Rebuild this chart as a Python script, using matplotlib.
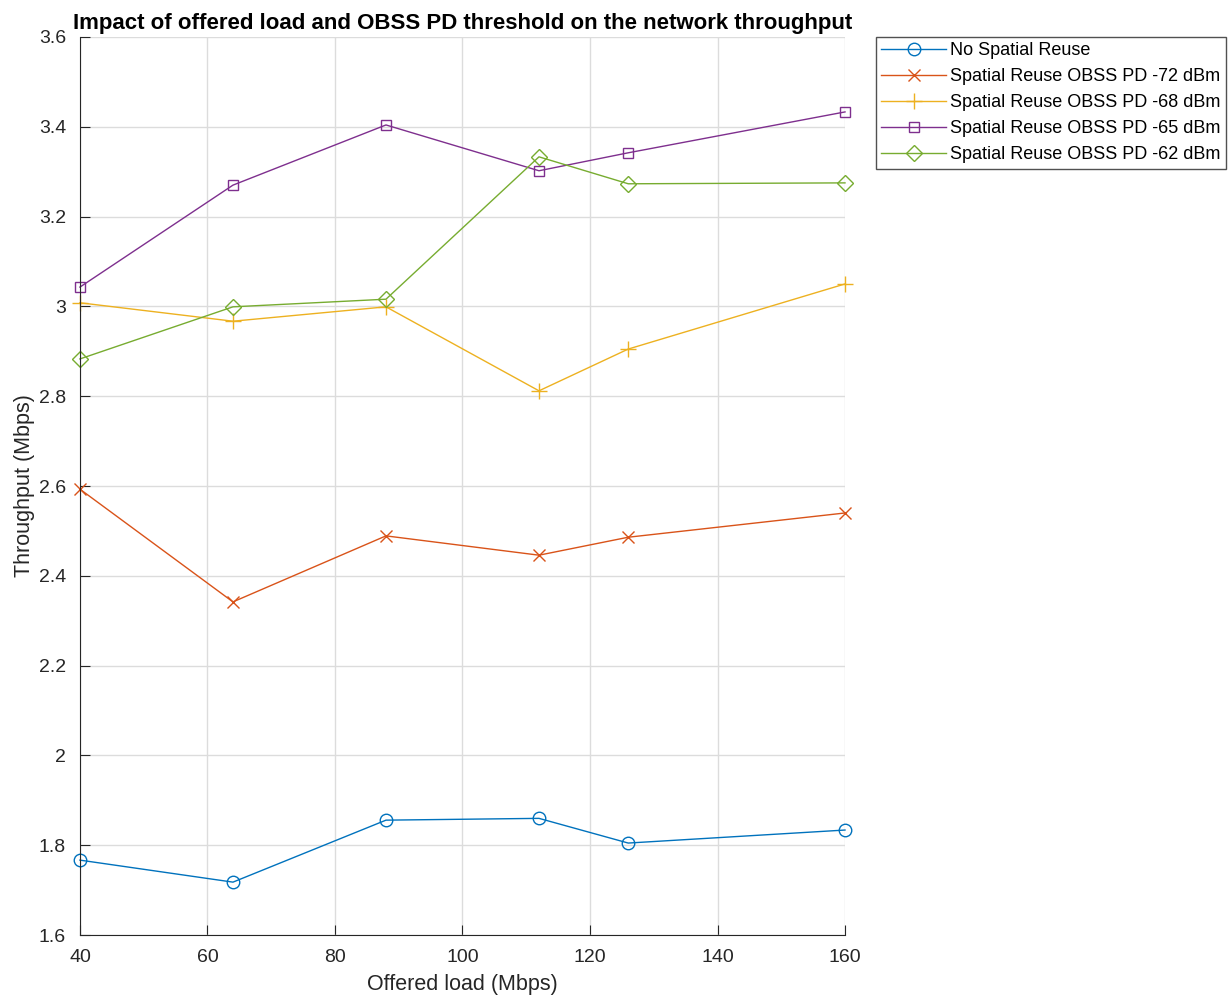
import matplotlib.pyplot as plt

# Data
offered_load = [40, 64, 88, 112, 126, 160]
no_sr = [1.767, 1.718, 1.856, 1.860, 1.805, 1.834]
sr_72 = [2.593, 2.342, 2.489, 2.446, 2.486, 2.540]
sr_68 = [3.008, 2.967, 2.999, 2.812, 2.905, 3.050]
sr_65 = [3.043, 3.270, 3.404, 3.302, 3.342, 3.433]
sr_62 = [2.883, 2.999, 3.016, 3.333, 3.273, 3.275]

labels = ['No Spatial Reuse',
          'Spatial Reuse OBSS PD -72 dBm',
          'Spatial Reuse OBSS PD -68 dBm',
          'Spatial Reuse OBSS PD -65 dBm',
          'Spatial Reuse OBSS PD -62 dBm']

plt.rcParams['font.family'] = ['Liberation Sans', 'DejaVu Sans']

fig = plt.figure(figsize=(12.3, 9.98), dpi=100)
ax = fig.add_axes([0.065, 0.063, 0.622, 0.9])

series = [no_sr, sr_72, sr_68, sr_65, sr_62]
colors = ['#0072BD', '#D95319', '#EDB120', '#7E2F8E', '#77AC30']
markers = ['o', 'x', '+', 's', 'D']
sizes = [9, 9, 11, 7, 8]

for ys, c, m, s, lab in zip(series, colors, markers, sizes, labels):
	ax.plot(offered_load, ys, color=c, marker=m, markersize=s, markerfacecolor='none',
			markeredgecolor=c, linewidth=1, markeredgewidth=1, label=lab, clip_on=False)

# Axes styling (MATLAB look)
ax.set_xlim(40, 160)
ax.set_ylim(1.6, 3.6)
ax.set_xticks(range(40, 161, 20))
ax.set_yticks([1.6, 1.8, 2.0, 2.2, 2.4, 2.6, 2.8, 3.0, 3.2, 3.4, 3.6])
ax.set_yticklabels(['1.6', '1.8', '2', '2.2', '2.4', '2.6', '2.8', '3', '3.2', '3.4', '3.6'])
ax.grid(True, color='#dcdcdc', linewidth=1)
ax.set_axisbelow(True)
ax.spines['top'].set_visible(False)
ax.spines['right'].set_visible(False)
ax.spines['left'].set_color('#262626')
ax.spines['bottom'].set_color('#262626')
ax.tick_params(direction='in', length=7, labelsize=14, colors='#262626', pad=10)

ax.set_xlabel('Offered load (Mbps)', fontsize=15.5, color='#262626', labelpad=6)
ax.set_ylabel('Throughput (Mbps)', fontsize=15.5, color='#262626', labelpad=3)
ax.set_title('Impact of offered load and OBSS PD threshold on the network throughput',
			 fontsize=16, fontweight='bold', pad=6)

leg = ax.legend(loc='upper left', bbox_to_anchor=(0.712, 0.963), bbox_transform=fig.transFigure,
				borderaxespad=0, fontsize=13, frameon=True, fancybox=False, edgecolor='#262626',
				handlelength=3.6, borderpad=0.3, labelspacing=0.5, handletextpad=0.2)
leg.get_frame().set_linewidth(1)

plt.savefig('out.png')
